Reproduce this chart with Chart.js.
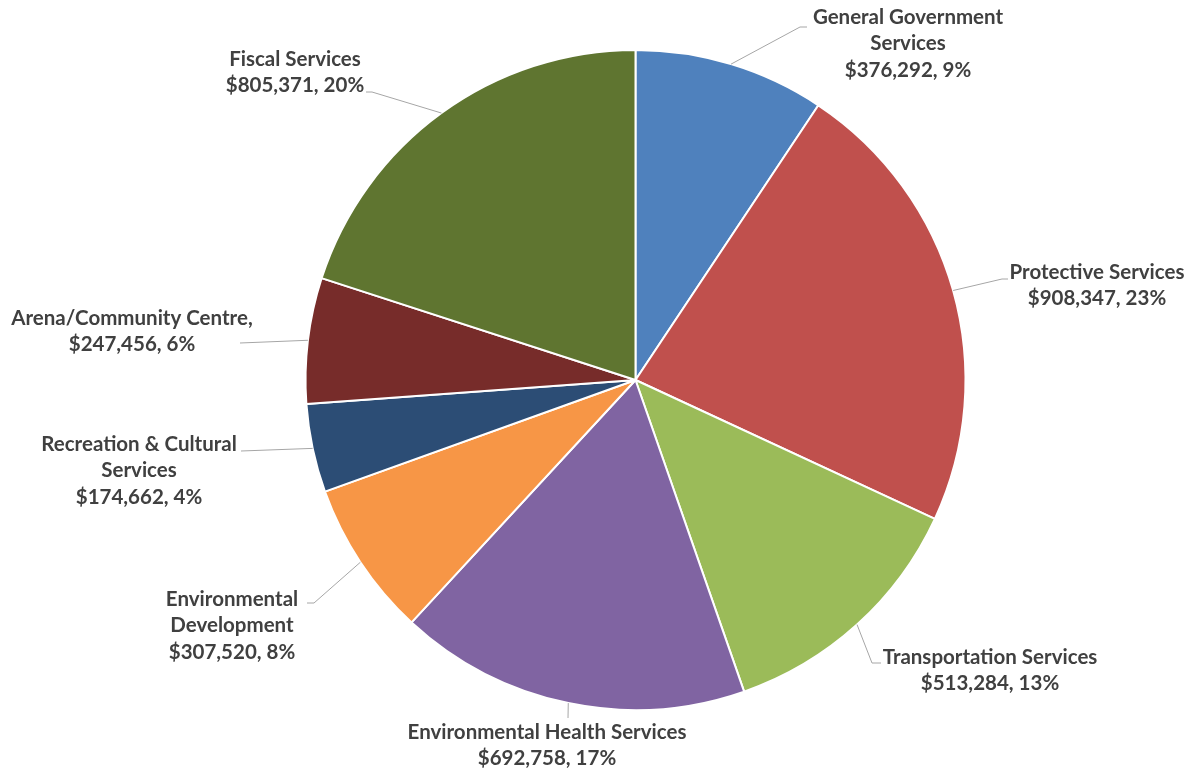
<!DOCTYPE html>
<html>
<head>
<meta charset="utf-8">
<script src="https://cdn.jsdelivr.net/npm/chart.js@4"></script>
<style>
  html, body { margin: 0; padding: 0; background: #fff; }
  #wrap { width: 1186px; height: 772px; }
</style>
</head>
<body>
<div id="wrap"><canvas id="myChart" width="1186" height="772"></canvas></div>
<script>
const categories = [
    "General Government Services",
    "Protective Services",
    "Transportation Services",
    "Environmental Health Services",
    "Environmental Development",
    "Recreation & Cultural Services",
    "Arena/Community Centre,",
    "Fiscal Services"
];
const amounts = [376292, 908347, 513284, 692758, 307520, 174662, 247456, 805371];
const percentLabels = ["9%", "23%", "13%", "17%", "8%", "4%", "6%", "20%"];
const colors = ["#4F81BD", "#C0504D", "#9BBB59", "#8064A2", "#F79646", "#2C4D75", "#772C2A", "#5F7530"];

// how each label wraps, and where its text and leader line sit
const labelLines = [
    ["General Government", "Services"],
    ["Protective Services"],
    ["Transportation Services"],
    ["Environmental Health Services"],
    ["Environmental", "Development"],
    ["Recreation & Cultural", "Services"],
    ["Arena/Community Centre,"],
    ["Fiscal Services"]
];
const labelLayout = [
    { x: 908, y: 17, elbow: [800, 27], end: [807, 27] },
    { x: 1097, y: 272, elbow: [1002, 279], end: [1008, 279] },
    { x: 990, y: 657, elbow: [872, 663], end: [881, 663] },
    { x: 547, y: 732, elbow: [568, 718], end: [568, 718] },
    { x: 232, y: 599, elbow: [314, 603], end: [307, 603] },
    { x: 139, y: 444, elbow: [241, 451], end: [241, 451] },
    { x: 132, y: 318, elbow: [240, 343], end: [240, 343] },
    { x: 295, y: 59, elbow: [372, 92], end: [366, 92] }
];

const money = v => "$" + v.toLocaleString("en-US");

const outsideLabels = {
    id: 'outsideLabels',
    afterDraw(chart) {
        const c = chart.ctx;
        const arcs = chart.getDatasetMeta(0).data;
        c.save();
        arcs.forEach((arc, i) => {
            const p = arc.getProps(['x', 'y', 'startAngle', 'endAngle', 'outerRadius'], true);
            const mid = (p.startAngle + p.endAngle) / 2;
            const sx = p.x + Math.cos(mid) * p.outerRadius;
            const sy = p.y + Math.sin(mid) * p.outerRadius;
            const L = labelLayout[i];
            c.strokeStyle = '#A6A6A6';
            c.lineWidth = 1;
            c.beginPath();
            c.moveTo(sx, sy);
            c.lineTo(L.elbow[0], L.elbow[1]);
            c.lineTo(L.end[0], L.end[1]);
            c.stroke();

            const lines = labelLines[i].concat([money(amounts[i]) + ", " + percentLabels[i]]);
            c.fillStyle = '#404040';
            c.font = 'bold 20.5px Lato';
            c.textAlign = 'center';
            c.textBaseline = 'middle';
            lines.forEach((t, k) => c.fillText(t, L.x, L.y + k * 26.7));
        });
        c.restore();
    }
};

new Chart(document.getElementById('myChart'), {
    type: 'pie',
    data: {
        labels: categories,
        datasets: [{
            data: amounts,
            backgroundColor: colors,
            borderColor: '#ffffff',
            borderWidth: 2
        }]
    },
    options: {
        responsive: false,
        animation: false,
        layout: { padding: { left: 200, right: 115, top: 49, bottom: 61 } },
        plugins: {
            legend: { display: false },
            tooltip: { enabled: false }
        }
    },
    plugins: [outsideLabels]
});
</script>
</body>
</html>
